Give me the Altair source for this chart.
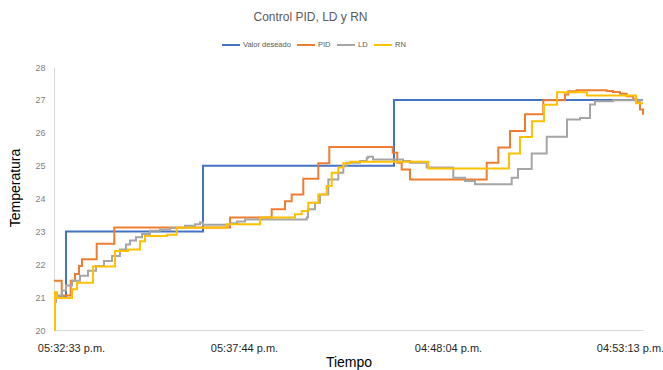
import altair as alt
import pandas as pd

# ---- axis tick labels (sample index -> time label) ----
x_ticks = [17, 190, 394, 576]
x_labels = ["05:32:33 p.m.", "05:37:44 p.m.", "04:48:04 p.m.", "04:53:13 p.m."]

series_names = ["Valor deseado", "PID", "LD", "RN"]
series_colors = ["#4472C4", "#ED7D31", "#A5A5A5", "#FFC000"]

# ---- Valor deseado (setpoint) ----
sp_t = [0, 12, 149, 340, 589]
sp_v = [21.0, 23.0, 25.0, 27.0, 27.0]

# ---- PID ----
pid_t = [0, 7.7, 16.7, 21, 25, 28, 42.7, 60.3, 176, 217.7, 231, 237.7, 249.3, 264.3, 275.3,
         338.7, 343.3, 347.7, 356, 432.7, 444.3, 456, 471, 489.3, 511, 514.3, 522.7, 552.7,
         559, 566, 572.7, 579.3, 582.7, 586, 589]
pid_v = [21.5, 21.05, 21.5, 21.7, 21.95, 22.15, 22.62, 23.12, 23.42, 23.67, 23.92, 24.12, 24.6,
         25.07, 25.57, 25.39, 25.09, 24.88, 24.58, 25.09, 25.55, 26.05, 26.56, 26.99, 27.16,
         27.26, 27.29, 27.27, 27.24, 27.19, 27.11, 27.02, 26.93, 26.71, 26.55]

# ---- LD ----
ld_t = [0, 2, 4, 8, 12, 18, 26, 34, 42, 50, 58, 66, 72, 76, 82, 88, 96, 106, 116, 131, 141, 146,
        149, 176, 183, 191, 252.7, 254, 261, 266, 274.3, 284.3, 289.3, 292.7, 306, 312.7, 314,
        319, 349, 356, 372.7, 399.3, 411, 421, 457.7, 464, 477.7, 492.7, 513, 526, 536, 541,
        559, 589]
ld_v = [20.85, 21.0, 21.05, 21.2, 21.35, 21.5, 21.65, 21.8, 21.95, 22.1, 22.25, 22.45, 22.6,
        22.72, 22.82, 22.92, 23.02, 23.06, 23.1, 23.17, 23.22, 23.27, 23.2, 23.25, 23.3, 23.36,
        23.42, 23.67, 23.87, 24.12, 24.58, 24.78, 24.98, 25.09, 25.14, 25.24, 25.27, 25.19,
        25.14, 25.09, 24.94, 24.63, 24.53, 24.43, 24.63, 24.9, 25.37, 25.88, 26.4, 26.45,
        26.86, 26.96, 26.99, 26.99]

# ---- RN ----
rn_t = [0, 1, 3, 18, 23, 39, 61, 74, 86, 91, 113, 122.7, 172.7, 206, 241, 247.7, 254.3, 264.3,
        272.7, 277.7, 284.3, 289.3, 296, 374.3, 455, 466, 478, 490, 503, 533, 582, 589]
rn_v = [20.0, 21.15, 20.97, 21.24, 21.44, 21.93, 22.4, 22.45, 22.7, 22.86, 22.9, 23.11, 23.22,
        23.42, 23.52, 23.62, 23.87, 24.12, 24.38, 24.78, 24.94, 25.07, 25.12, 24.91, 25.37,
        25.87, 26.35, 26.85, 27.23, 27.13, 26.9, 26.9]

frames = []
for name, ts, vs in zip(series_names, [sp_t, pid_t, ld_t, rn_t], [sp_v, pid_v, ld_v, rn_v]):
    frames.append(pd.DataFrame({"t": ts, "valor": vs, "serie": name}))
df = pd.DataFrame(pd.concat(frames, ignore_index=True))

label_expr = "{}[indexof({}, datum.value)]".format(
    "[" + ",".join("'" + s + "'" for s in x_labels) + "]",
    "[" + ",".join(str(v) for v in x_ticks) + "]",
)

W, H = 589, 263
AXFONT = "Liberation Sans, Arial, sans-serif"

x_enc = alt.X(
    "t:Q",
    scale=alt.Scale(domain=[0, 589], nice=False, zero=False),
    axis=alt.Axis(
        values=x_ticks, labelExpr=label_expr, grid=False, ticks=False, tickSize=0,
        domainColor="#d9d9d9", domainWidth=1,
        labelFont=AXFONT, labelFontSize=11, labelColor="#262626",
        labelPadding=21.7, labelBaseline="alphabetic", labelFlush=False, labelOverlap=False,
        title="Tiempo", titleFont=AXFONT, titleFontSize=14, titleFontWeight="normal",
        titleColor="#000000", titleY=36, titleBaseline="alphabetic",
    ),
)
y_enc = alt.Y(
    "valor:Q",
    scale=alt.Scale(domain=[20, 28], nice=False, zero=False),
    axis=alt.Axis(
        values=list(range(20, 29)), grid=False, ticks=False, tickSize=0,
        domainColor="#d9d9d9", domainWidth=1,
        labelFont=AXFONT, labelFontSize=9, labelColor="#808080", labelPadding=9,
        title="Temperatura", titleFont=AXFONT, titleFontSize=14, titleFontWeight="normal",
        titleColor="#000000", titleX=-39, titleY=120.5, titleAngle=270,
        titleAlign="center", titleBaseline="middle",
    ),
)
color_enc = alt.Color(
    "serie:N",
    scale=alt.Scale(domain=series_names, range=series_colors),
    legend=alt.Legend(
        title=None, orient="none", legendX=167, legendY=-32, direction="horizontal",
        symbolType="stroke", symbolSize=324, symbolStrokeWidth=2,
        labelFont=AXFONT, labelFontSize=7.5, labelColor="#595959",
        labelOffset=2, columnPadding=2, padding=0,
    ),
)

layers = []
for name in series_names:
    layers.append(
        alt.Chart(df)
        .transform_filter(alt.datum.serie == name)
        .mark_line(interpolate="step-after", strokeWidth=2)
        .encode(x=x_enc, y=y_enc, color=color_enc)
    )

chart = (
    alt.layer(*layers)
    .properties(
        width=W, height=H,
        autosize=alt.AutoSizeParams(type="none"),
        padding={"left": 54, "top": 67, "right": 20, "bottom": 40},
        background="white",
        title=alt.TitleParams(
            "Control PID, LD y RN", font=AXFONT, fontSize=12, color="#595959",
            fontWeight="normal", frame="group", offset=2, baseline="alphabetic", dx=-38,
        ),
    )
    .configure_view(strokeWidth=0)
)

chart.save("out.html", embed_options={"renderer": "svg", "actions": False})
